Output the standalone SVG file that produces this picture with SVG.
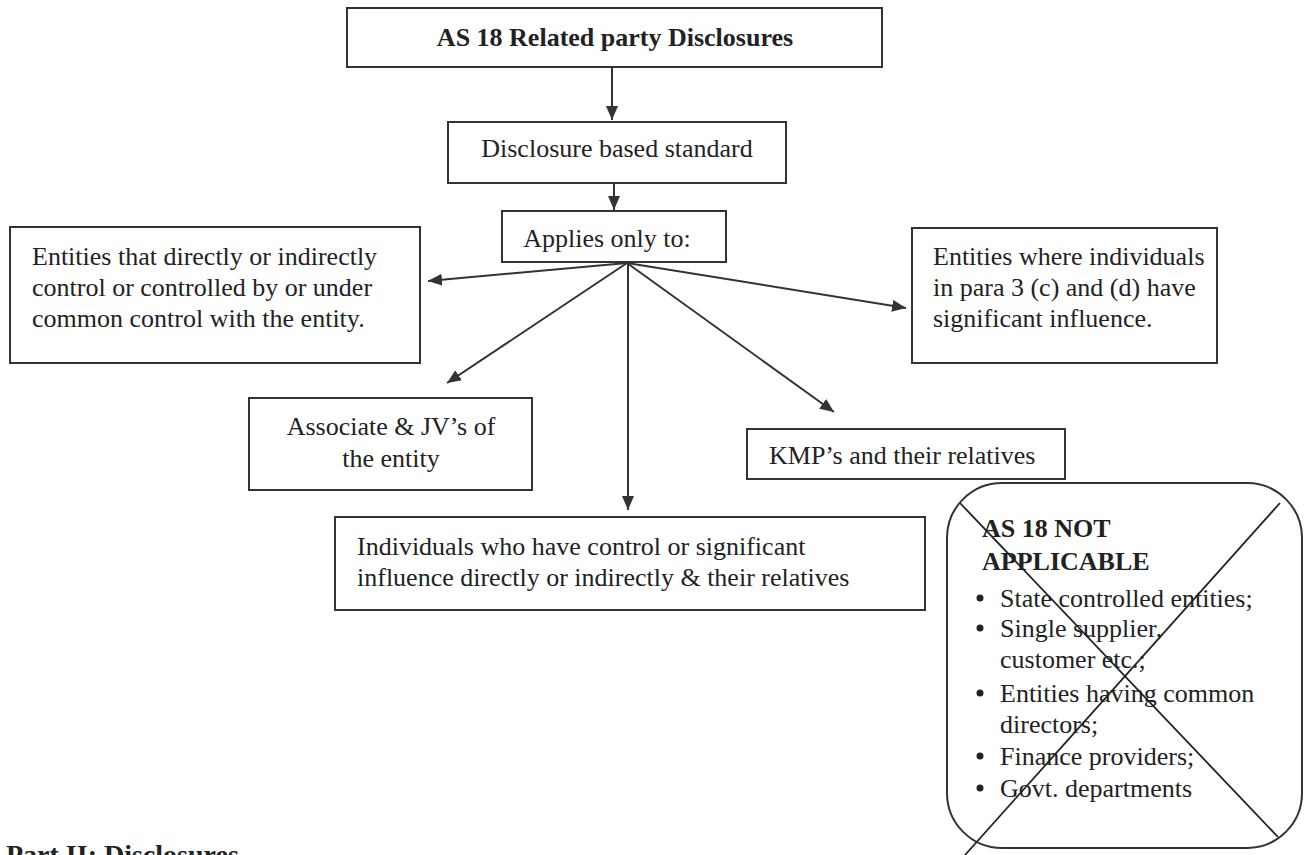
<svg xmlns="http://www.w3.org/2000/svg" width="1306" height="855" viewBox="0 0 1306 855">
<defs>
<style>
.box{fill:#fff;stroke:#333;stroke-width:2}
.t{font-family:"Liberation Serif","Times New Roman",serif;font-size:26px;fill:#222}
.b{font-weight:bold}
.c{text-anchor:middle}
.ln{stroke:#333;stroke-width:2;fill:none;marker-end:url(#ah)}
.x{stroke:#222;stroke-width:1.8}
</style>
<marker id="ah" markerUnits="userSpaceOnUse" markerWidth="14" markerHeight="12" refX="14" refY="6" orient="auto">
<path d="M0,0 L14,6 L0,12 z" fill="#333"/>
</marker>
</defs>
<rect width="1306" height="855" fill="#fff"/>
<g id="connectors">
<line class="ln" x1="612" y1="67" x2="612" y2="120"/>
<line class="ln" x1="614" y1="183" x2="614" y2="210"/>
<line class="ln" x1="627" y1="263" x2="428" y2="281"/>
<line class="ln" x1="627" y1="263" x2="906" y2="308"/>
<line class="ln" x1="627" y1="263" x2="447" y2="383"/>
<line class="ln" x1="627" y1="263" x2="834" y2="412"/>
<line class="ln" x1="628" y1="263" x2="628" y2="510"/>
</g>
<g id="n-title">
<rect class="box" x="347" y="8" width="535" height="59"/>
<text class="t b c" x="615" y="46">AS 18 Related party Disclosures</text>
</g>
<g id="n-disclosure">
<rect class="box" x="448" y="122" width="338" height="61"/>
<text class="t c" x="617" y="157">Disclosure based standard</text>
</g>
<g id="n-applies">
<rect class="box" x="502" y="211" width="224" height="51"/>
<text class="t c" x="607" y="247">Applies only to:</text>
</g>
<g id="n-entities-control">
<rect class="box" x="10" y="227" width="410" height="136"/>
<text class="t" x="32" y="265">Entities that directly or indirectly</text>
<text class="t" x="32" y="296">control or controlled by or under</text>
<text class="t" x="32" y="327">common control with the entity.</text>
</g>
<g id="n-entities-influence">
<rect class="box" x="912" y="228" width="305" height="135"/>
<text class="t" x="933" y="265">Entities where individuals</text>
<text class="t" x="933" y="296">in para 3 (c) and (d) have</text>
<text class="t" x="933" y="327">significant influence.</text>
</g>
<g id="n-associate">
<rect class="box" x="249" y="398" width="283" height="92"/>
<text class="t c" x="391" y="435">Associate &amp; JV’s of</text>
<text class="t c" x="391" y="467">the entity</text>
</g>
<g id="n-kmp">
<rect class="box" x="747" y="429" width="318" height="50"/>
<text class="t" x="769" y="464">KMP’s and their relatives</text>
</g>
<g id="n-individuals">
<rect class="box" x="335" y="517" width="590" height="93"/>
<text class="t" x="357" y="555">Individuals who have control or significant</text>
<text class="t" x="357" y="586">influence directly or indirectly &amp; their relatives</text>
</g>
<g id="n-not-applicable">
<rect class="box" x="947" y="483" width="355" height="365" rx="55" ry="55"/>
<text class="t b" x="982" y="537">AS 18 NOT</text>
<text class="t b" x="982" y="570">APPLICABLE</text>
<circle cx="980" cy="598" r="3.5" fill="#222"/>
<text class="t" x="1000" y="607">State controlled entities;</text>
<circle cx="980" cy="628" r="3.5" fill="#222"/>
<text class="t" x="1000" y="637">Single supplier,</text>
<text class="t" x="1000" y="668">customer etc.;</text>
<circle cx="980" cy="693" r="3.5" fill="#222"/>
<text class="t" x="1000" y="702">Entities having common</text>
<text class="t" x="1000" y="733">directors;</text>
<circle cx="980" cy="756" r="3.5" fill="#222"/>
<text class="t" x="1000" y="765">Finance providers;</text>
<circle cx="980" cy="788" r="3.5" fill="#222"/>
<text class="t" x="1000" y="797">Govt. departments</text>
<line class="x" x1="960" y1="503" x2="1278" y2="837"/>
<line class="x" x1="1280" y1="503" x2="965" y2="855"/>
</g>
<text class="t b" x="6" y="864" style="font-size:28px">Part II: Disclosures</text>
</svg>
